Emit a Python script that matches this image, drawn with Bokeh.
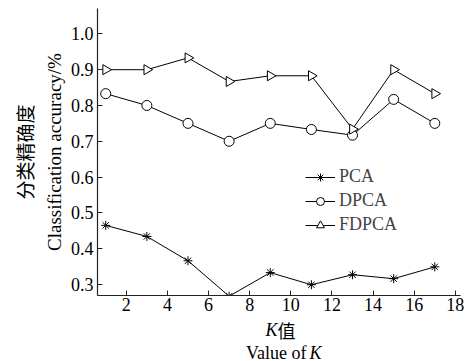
import math
from bokeh.plotting import figure
from bokeh.layouts import column
from bokeh.models import Range1d, Label, Legend, LegendItem, FixedTicker, Title
from bokeh.embed import file_html
from bokeh.resources import INLINE

k_values = [1, 3, 5, 7, 9, 11, 13, 15, 17]
pca = [0.465, 0.434, 0.366, 0.267, 0.333, 0.299, 0.327, 0.316, 0.349]
dpca = [0.833, 0.800, 0.750, 0.700, 0.750, 0.733, 0.717, 0.817, 0.750]
fdpca = [0.900, 0.900, 0.933, 0.867, 0.883, 0.883, 0.734, 0.900, 0.833]
x_ticks = [2, 4, 6, 8, 10, 12, 14, 16, 18]
y_ticks = [0.3, 0.4, 0.5, 0.6, 0.7, 0.8, 0.9, 1.0]

W, H = 467, 361
BOTTOM_H = 43
MAIN_H = H - BOTTOM_H
ML, MR, MT = 97, 7, 8
MB = MAIN_H - 295
X0, X1 = 0.6, 18.25
Y0, Y1 = 0.269, 1.071

FONT = "Times New Roman"
CJK = "Noto Sans CJK SC"

p = figure(width=W, height=MAIN_H, output_backend="svg", toolbar_location=None,
           x_range=Range1d(X0, X1), y_range=Range1d(Y0, Y1),
           min_border_left=ML, min_border_right=MR, min_border_top=MT, min_border_bottom=MB)
p.outline_line_color = None
p.grid.visible = False

for ax in (p.xaxis[0], p.yaxis[0]):
    ax.axis_line_color = "#222222"
    ax.axis_line_width = 1.2
    ax.major_tick_in = 5
    ax.major_tick_out = 0
    ax.major_tick_line_color = "#222222"
    ax.minor_tick_line_color = None
    ax.major_label_text_font = FONT
    ax.major_label_text_font_size = "18px"
    ax.major_label_text_color = "black"
p.xaxis[0].ticker = FixedTicker(ticks=x_ticks)
p.yaxis[0].ticker = FixedTicker(ticks=y_ticks)
p.yaxis[0].major_label_overrides = {t: f"{t:.1f}" for t in y_ticks}
p.xaxis[0].major_label_standoff = 2
p.yaxis[0].major_label_standoff = 4

l1 = p.line(k_values, pca, line_color="black", line_width=1)
m1 = p.scatter(k_values, pca, marker="asterisk", size=9, line_color="black", line_width=1)
l2 = p.line(k_values, dpca, line_color="black", line_width=1)
m2 = p.scatter(k_values, dpca, marker="circle", size=10, line_color="black", fill_color="white", line_width=1)
l3 = p.line(k_values, fdpca, line_color="black", line_width=1)
m3 = p.scatter(k_values, fdpca, marker="triangle", angle=-math.pi / 2, size=10,
               line_color="black", fill_color="white", line_width=1)

legend = Legend(items=[LegendItem(label="PCA", renderers=[l1, m1]),
                       LegendItem(label="DPCA", renderers=[l2, m2]),
                       LegendItem(label="FDPCA", renderers=[l3, m3])],
                location=(208, 60), background_fill_alpha=0, border_line_color=None,
                label_text_font=FONT, label_text_font_size="18px", glyph_width=30,
                glyph_height=20, label_height=20, spacing=3, padding=0, margin=0,
                label_standoff=4)
p.add_layout(legend, "center")

p.add_layout(Title(text="Classification accuracy/%", align="center", text_font=FONT,
                   text_font_size="19px", text_font_style="normal", text_color="black",
                   standoff=6), "left")
p.add_layout(Title(text="分类精确度", align="center", text_font=CJK,
                   text_font_size="19px", text_font_style="normal", text_color="black",
                   standoff=2), "left")

b = figure(width=W, height=BOTTOM_H, output_backend="svg", toolbar_location=None,
           x_range=Range1d(0, 1), y_range=Range1d(0, 1),
           x_axis_location=None, y_axis_location=None,
           min_border_left=ML, min_border_right=MR, min_border_top=0, min_border_bottom=0)
b.outline_line_color = None
b.grid.visible = False

def add_label(text, cx, cy, font, style="normal", size="18px", align="center"):
    b.add_layout(Label(x=cx - ML, y=H - cy, x_units="screen", y_units="screen", text=text,
                       text_font=font, text_font_size=size, text_align=align,
                       text_baseline="middle", text_font_style=style, text_color="black"))

add_label("K", 277, 329, FONT, style="italic", align="right")
add_label("值", 277, 329, CJK, size="18px", align="left")
add_label("Value of", 306, 352, FONT, align="right")
add_label("K", 309, 352, FONT, style="italic", align="left")

layout = column(p, b, spacing=0)
open("out.html", "w").write(file_html(layout, INLINE))
